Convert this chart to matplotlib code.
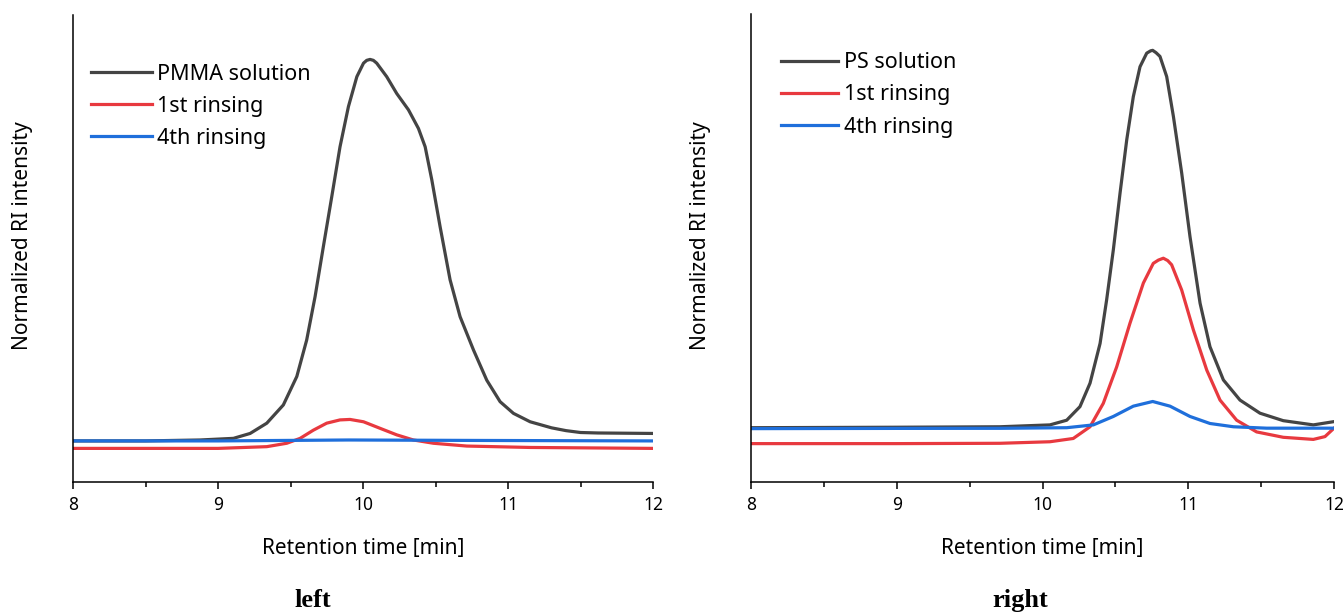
import numpy as np
import matplotlib.pyplot as plt
from matplotlib.ticker import MultipleLocator

# ---- traced data (retention time in min, normalized intensity, axis span 0..1) ----
pmma_t = [8.0, 8.5, 8.876, 9.106, 9.221, 9.336, 9.450, 9.543, 9.611, 9.669, 9.726, 9.784,
          9.841, 9.899, 9.957, 10.003, 10.025, 10.048, 10.071, 10.094, 10.163, 10.232, 10.313,
          10.382, 10.428, 10.474, 10.531, 10.600, 10.669, 10.761, 10.853, 10.945, 11.037,
          11.152, 11.30, 11.40, 11.50, 11.62, 12.0]
pmma_y = [0.088, 0.088, 0.090, 0.0935, 0.104, 0.126, 0.165, 0.226, 0.304, 0.397, 0.504, 0.611,
          0.718, 0.804, 0.868, 0.897, 0.903, 0.905, 0.903, 0.897, 0.868, 0.832, 0.797, 0.757,
          0.718, 0.647, 0.547, 0.433, 0.354, 0.283, 0.218, 0.172, 0.147, 0.129, 0.116, 0.110,
          0.106, 0.105, 0.104]

r1_left_t = [8.0, 9.0, 9.336, 9.474, 9.566, 9.657, 9.749, 9.841, 9.910, 10.003, 10.117, 10.232,
             10.347, 10.485, 10.715, 11.152, 12.0]
r1_left_y = [0.072, 0.072, 0.0757, 0.083, 0.0935, 0.111, 0.126, 0.133, 0.134, 0.129, 0.115,
             0.101, 0.090, 0.083, 0.077, 0.074, 0.072]

r4_left_t = [8.0, 9.0, 9.9, 10.8, 12.0]
r4_left_y = [0.088, 0.088, 0.090, 0.089, 0.088]

ps_t = [8.0, 9.0, 9.708, 10.051, 10.166, 10.257, 10.326, 10.395, 10.440, 10.486, 10.532, 10.578,
        10.623, 10.669, 10.715, 10.742, 10.756, 10.779, 10.806, 10.852, 10.898, 10.955, 11.012,
        11.081, 11.149, 11.241, 11.355, 11.492, 11.652, 11.858, 12.0]
ps_y = [0.116, 0.117, 0.118, 0.122, 0.132, 0.161, 0.211, 0.296, 0.389, 0.496, 0.617, 0.731,
        0.823, 0.887, 0.916, 0.921, 0.922, 0.917, 0.909, 0.866, 0.781, 0.660, 0.524, 0.382,
        0.289, 0.218, 0.175, 0.147, 0.131, 0.122, 0.129]

r1_right_t = [8.0, 9.0, 9.708, 10.051, 10.211, 10.326, 10.417, 10.509, 10.600, 10.692, 10.760,
              10.795, 10.829, 10.859, 10.886, 10.955, 11.035, 11.127, 11.218, 11.332, 11.469,
              11.652, 11.858, 11.938, 12.0]
r1_right_y = [0.082, 0.082, 0.0827, 0.086, 0.093, 0.118, 0.168, 0.246, 0.339, 0.425, 0.467,
              0.474, 0.478, 0.473, 0.464, 0.410, 0.325, 0.239, 0.175, 0.132, 0.107, 0.0955,
              0.091, 0.097, 0.115]

r4_right_t = [8.0, 9.0, 9.708, 10.166, 10.349, 10.486, 10.623, 10.756, 10.875, 11.012, 11.149,
              11.310, 11.538, 12.0]
r4_right_y = [0.114, 0.1145, 0.1147, 0.116, 0.122, 0.140, 0.162, 0.172, 0.162, 0.140, 0.125,
              0.118, 0.115, 0.115]

C_BLACK = '#444444'
C_RED = '#e8393f'
C_BLUE = '#1f6fdb'

plt.rcParams['font.family'] = ['Noto Sans', 'DejaVu Sans']

fig = plt.figure(figsize=(13.43, 6.12), dpi=100)
ax1 = fig.add_axes([0.0544, 0.2124, 0.4319, 0.763])
ax2 = fig.add_axes([0.5592, 0.2124, 0.4341, 0.765])


def style_axis(ax):
    ax.set_xlim(8, 12)
    ax.set_ylim(0, 1)
    ax.spines['top'].set_visible(False)
    ax.spines['right'].set_visible(False)
    ax.spines['left'].set_linewidth(1.1)
    ax.spines['bottom'].set_linewidth(1.1)
    ax.set_yticks([])
    ax.xaxis.set_major_locator(MultipleLocator(1))
    ax.xaxis.set_minor_locator(MultipleLocator(0.5))
    ax.tick_params(axis='x', which='major', direction='out', length=5, width=1.1,
                   labelsize=12.5, pad=5)
    ax.tick_params(axis='x', which='minor', direction='out', length=3.5, width=1.1)
    ax.set_xlabel('Retention time [min]', fontsize=15, labelpad=17)
    ax.set_ylabel('Normalized RI intensity', fontsize=15)
    ax.yaxis.set_label_coords(-0.069, 0.527)


lw = 2.3
ax1.plot(pmma_t, pmma_y, color=C_BLACK, lw=lw, label='PMMA solution')
ax1.plot(r1_left_t, r1_left_y, color=C_RED, lw=lw, label='1st rinsing')
ax1.plot(r4_left_t, r4_left_y, color=C_BLUE, lw=lw, label='4th rinsing')
style_axis(ax1)
ax1.legend(loc='upper left', bbox_to_anchor=(0.031, 0.896), frameon=False, fontsize=15.5,
           handlelength=2.83, handletextpad=0.25, labelspacing=0.52, borderpad=0,
           borderaxespad=0)

ax2.plot(ps_t, ps_y, color=C_BLACK, lw=lw, label='PS solution')
ax2.plot(r1_right_t, r1_right_y, color=C_RED, lw=lw, label='1st rinsing')
ax2.plot(r4_right_t, r4_right_y, color=C_BLUE, lw=lw, label='4th rinsing')
style_axis(ax2)
ax2.legend(loc='upper left', bbox_to_anchor=(0.052, 0.918), frameon=False, fontsize=15.5,
           handlelength=2.65, handletextpad=0.25, labelspacing=0.52, borderpad=0,
           borderaxespad=0)

fig.text(0.2331, 0.0, 'left', fontsize=19, fontweight='bold', family='Liberation Serif',
         ha='center', va='bottom')
fig.text(0.7595, 0.0, 'right', fontsize=19, fontweight='bold', family='Liberation Serif',
         ha='center', va='bottom')

fig.savefig('out.png', dpi=100, facecolor='white')
